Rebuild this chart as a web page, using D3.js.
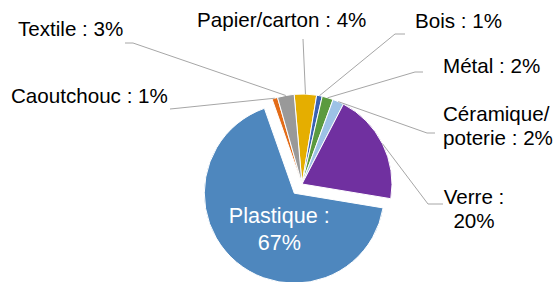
<!DOCTYPE html>
<html>
<head>
<meta charset="utf-8">
<script src="https://cdn.jsdelivr.net/npm/d3@7"></script>
<style>
  body { margin: 0; background: #fff; }
  text { font-family: "Liberation Sans", Arial, sans-serif; }
</style>
</head>
<body>
<svg id="chart" width="553" height="282"></svg>
<script>
// data, clockwise from the top
const categories = ["Papier/carton", "Bois", "Métal", "Céramique/ poterie", "Verre", "Plastique", "Caoutchouc", "Textile"];
const values = [4, 1, 2, 2, 20, 67, 1, 3];
const colors = ["#E5AE00", "#3A62B2", "#5B9A3F", "#9DC2E6", "#7030A0", "#4E87BE", "#E36C18", "#999999"];

// label layout: text lines, anchor, first baseline, leader elbow + end
const labelLayout = {
  "Papier/carton": {lines: ["Papier/carton : 4%"], x: 197, y: 27, anchor: "start", leader: [[303, 39]]},
  "Bois": {lines: ["Bois : 1%"], x: 415, y: 28, anchor: "start", leader: [[395, 34], [405, 34]]},
  "Métal": {lines: ["Métal : 2%"], x: 443, y: 73, anchor: "start", leader: [[415, 72], [423, 72]]},
  "Céramique/ poterie": {lines: ["Céramique/", "poterie : 2%"], x: 443, y: 121, anchor: "start", leader: [[427, 133], [435, 133]]},
  "Verre": {lines: ["Verre :", "20%"], x: 474, y: 204, anchor: "middle", leader: [[428, 204], [443, 204]]},
  "Caoutchouc": {lines: ["Caoutchouc : 1%"], x: 11, y: 103, anchor: "start", leader: [[180, 108], [170, 109]]},
  "Textile": {lines: ["Textile : 3%"], x: 18, y: 36, anchor: "start", leader: [[133, 43], [125, 43]]}
};

const svg = d3.select("#chart");
const cx = 302, cy = 184, r = 90;
const explode = 12;
const deg = Math.PI / 180;

const pie = d3.pie().sort(null).startAngle(-5 * deg).endAngle(355 * deg);
const arcs = pie(values).map((d, i) => ({...d, name: categories[i], color: colors[i]}));

const arc = d3.arc().innerRadius(0).outerRadius(r);
const g = svg.append("g").attr("transform", `translate(${cx},${cy})`);

function offset(d) {
  if (d.name !== "Plastique") return [0, 0];
  const mid = (d.startAngle + d.endAngle) / 2;
  return [Math.sin(mid) * explode, -Math.cos(mid) * explode];
}

g.selectAll("path.slice")
  .data(arcs)
  .join("path")
  .attr("class", "slice")
  .attr("d", arc)
  .attr("transform", d => `translate(${offset(d)})`)
  .attr("fill", d => d.color)
  .attr("stroke", "#fff")
  .attr("stroke-width", 1);

// leader lines
const line = d3.line();
arcs.filter(d => labelLayout[d.name]).forEach(d => {
  const mid = (d.startAngle + d.endAngle) / 2;
  const p0 = [cx + Math.sin(mid) * r, cy - Math.cos(mid) * r];
  svg.append("path")
    .attr("d", line([p0, ...labelLayout[d.name].leader]))
    .attr("fill", "none")
    .attr("stroke", "#A6A6A6")
    .attr("stroke-width", 1);
});

// outside labels
Object.values(labelLayout).forEach(l => {
  const t = svg.append("text")
    .attr("x", l.x).attr("y", l.y)
    .attr("text-anchor", l.anchor)
    .attr("font-size", "20.6px")
    .attr("fill", "#000");
  l.lines.forEach((s, i) => {
    t.append("tspan").attr("x", l.x).attr("dy", i === 0 ? 0 : 24).text(s);
  });
});

// inside label for Plastique
const plast = arcs.find(d => d.name === "Plastique");
const po = offset(plast);
const pt = svg.append("text")
  .attr("text-anchor", "middle")
  .attr("font-size", "21.6px")
  .attr("fill", "#fff");
["Plastique :", "67%"].forEach((s, i) => {
  pt.append("tspan")
    .attr("x", cx + po[0] - 15)
    .attr("y", cy + po[1] + 30 + i * 27)
    .text(s);
});
</script>
</body>
</html>
